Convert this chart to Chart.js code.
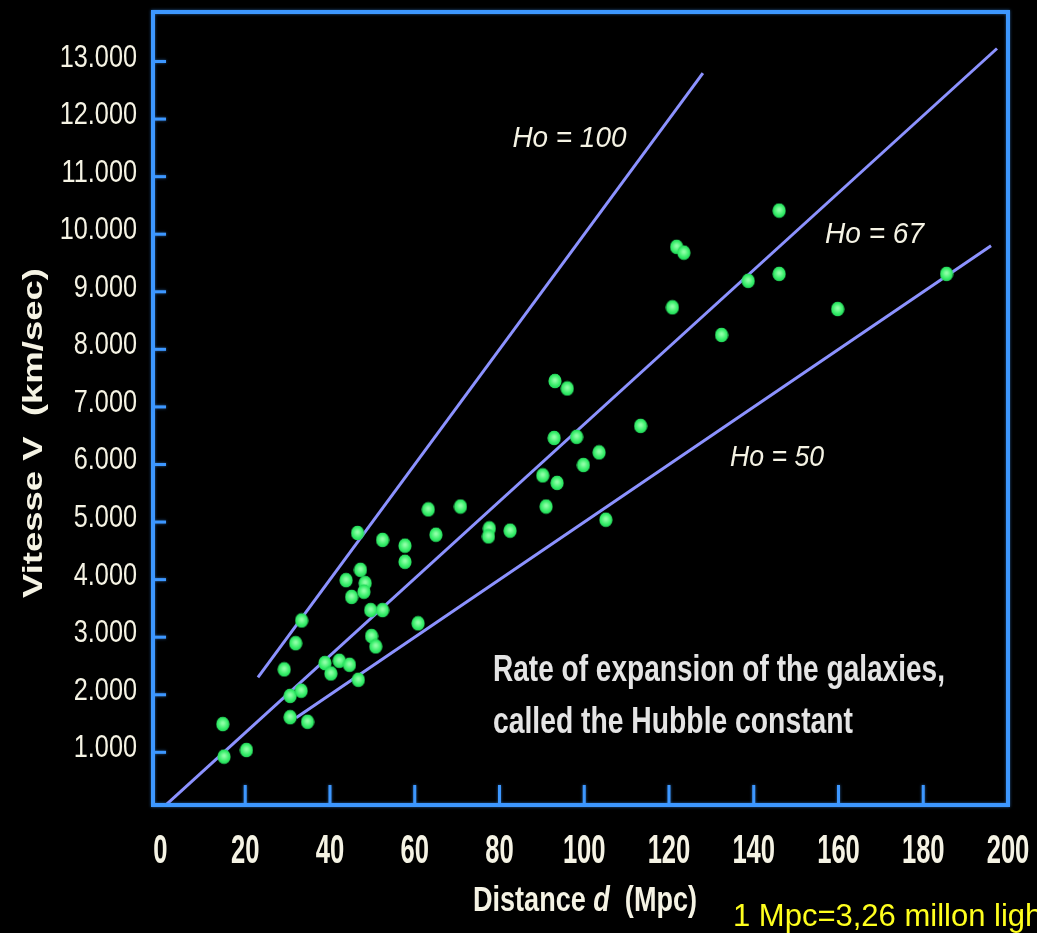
<!DOCTYPE html>
<html>
<head>
<meta charset="utf-8">
<title>Hubble diagram</title>
<style>
  html, body { margin: 0; padding: 0; background: #000; overflow: hidden; }
  #wrap { width: 1037px; height: 933px; position: relative; }
</style>
<script src="https://cdn.jsdelivr.net/npm/chart.js@4.4.1/dist/chart.umd.min.js"></script>
</head>
<body>
<div id="wrap"><canvas id="hubble" width="1037" height="933"></canvas></div>
<script>
// Galaxy distances (Mpc) and recession velocities (km/s)
const distanceMpc = [14.7, 15.0, 20.3, 29.2, 31.9, 33.3, 30.6, 33.2, 30.6, 34.7,
  38.8, 40.2, 42.2, 44.6, 46.7, 45.1, 43.8, 47.2, 48.3, 48.0,
  49.6, 52.4, 49.8, 50.8, 46.5, 52.4, 57.7, 57.7, 63.2, 70.8,
  65.0, 77.6, 77.4, 60.8, 82.5, 93.1, 96.0, 92.9, 98.2, 103.5,
  99.8, 90.2, 93.6, 91.0, 105.1, 113.3, 120.8, 121.8, 123.5, 132.4,
  138.7, 146.0, 146.0, 159.8, 185.5];
const velocityKms = [1490, 925, 1040, 2440, 2895, 3290, 1980, 2070, 1610, 1530,
  2550, 2370, 2590, 2520, 2260, 3700, 3990, 4170, 3940, 3790,
  3470, 3470, 3020, 2840, 4810, 4690, 4590, 4310, 5220, 5270,
  4780, 4890, 4750, 3240, 4850, 7450, 7320, 6460, 6480, 6210,
  5990, 5810, 5680, 5270, 5040, 6670, 8730, 9780, 9680, 8250,
  9190, 10410, 9310, 8700, 9310];

// Hubble constants (km/s/Mpc) and the distance span each reference line covers
const hubbleRates = [100, 67, 50];
const hubbleLabels = ['Ho = 100', 'Ho = 67', 'Ho = 50'];
const lineStartMpc = [23, 0, 32];
const lineEndMpc = [128, 197.4, 196];
// where each rate label sits, in data units (Mpc, km/s)
const labelAtMpc = [96.5, 168.5, 145.5];
const labelAtKms = [11700, 10040, 6170];

// Axis ticks
const xTickValues = [0, 20, 40, 60, 80, 100, 120, 140, 160, 180, 200];
const yTickValues = [1000, 2000, 3000, 4000, 5000, 6000, 7000, 8000, 9000, 10000, 11000, 12000, 13000];

const FRAME_BLUE = '#3d97ff';
const LINE_BLUE = '#8c92ff';
const LABEL_WHITE = '#f5f3e4';

// soft green dot used as the galaxy marker
function makeDot() {
  const c = document.createElement('canvas');
  c.width = 14; c.height = 16;
  const g = c.getContext('2d');
  const grad = g.createRadialGradient(7, 7, 1, 7, 8, 8);
  grad.addColorStop(0, '#8dffa6');
  grad.addColorStop(0.55, '#3bef6c');
  grad.addColorStop(0.85, '#22d85a');
  grad.addColorStop(1, 'rgba(20,160,60,0)');
  g.fillStyle = grad;
  g.beginPath();
  g.ellipse(7, 8, 6.6, 7.6, 0, 0, Math.PI * 2);
  g.fill();
  return c;
}

const galaxyPoints = distanceMpc.map((d, i) => ({ x: d, y: velocityKms[i] }));

const lineSets = hubbleRates.map((h, i) => ({
  type: 'line',
  label: hubbleLabels[i],
  data: [
    { x: lineStartMpc[i], y: h * lineStartMpc[i] },
    { x: lineEndMpc[i], y: h * lineEndMpc[i] }
  ],
  borderColor: LINE_BLUE,
  borderWidth: 3,
  pointRadius: 0,
  tension: 0,
  order: 2
}));

// draw text squeezed or stretched horizontally to a given width
function fitText(ctx, parts, x, y, width) {
  let total = 0;
  parts.forEach(p => { ctx.font = p.font; p.w = ctx.measureText(p.t).width; total += p.w; });
  const sx = width / total;
  ctx.save();
  ctx.translate(x, y);
  ctx.scale(sx, 1);
  let cx = 0;
  parts.forEach(p => { ctx.font = p.font; ctx.fillText(p.t, cx, 0); cx += p.w; });
  ctx.restore();
}

// draw text with a fixed horizontal squeeze, anchored by alignment
function narrowText(ctx, t, x, y, font, sx, align) {
  ctx.save();
  ctx.font = font;
  const w = ctx.measureText(t).width * sx;
  const left = align === 'right' ? x - w : align === 'center' ? x - w / 2 : x;
  ctx.translate(left, y);
  ctx.scale(sx, 1);
  ctx.textAlign = 'left';
  ctx.fillText(t, 0, 0);
  ctx.restore();
}

const framePlugin = {
  id: 'frame',
  afterDatasetsDraw(chart) {
    const { ctx, chartArea: a, scales } = chart;
    ctx.save();
    ctx.strokeStyle = FRAME_BLUE;
    ctx.shadowColor = 'rgba(61,151,255,0.6)';
    ctx.shadowBlur = 3;
    ctx.lineWidth = 4;
    ctx.strokeRect(a.left + 1, a.top, a.right - a.left - 1, a.bottom - a.top - 2);
    ctx.lineWidth = 3;
    // inward tick marks
    yTickValues.forEach(v => {
      const py = scales.y.getPixelForValue(v);
      ctx.beginPath(); ctx.moveTo(a.left + 2, py); ctx.lineTo(a.left + 14, py); ctx.stroke();
    });
    xTickValues.filter(v => v > 0 && v < 200).forEach(v => {
      const px = scales.x.getPixelForValue(v);
      ctx.beginPath(); ctx.moveTo(px, a.bottom - 3); ctx.lineTo(px, a.bottom - 22); ctx.stroke();
    });
    ctx.restore();
  }
};

const notesPlugin = {
  id: 'notes',
  afterDraw(chart) {
    const { ctx, scales, chartArea: a } = chart;
    ctx.save();
    ctx.textBaseline = 'alphabetic';
    ctx.textAlign = 'left';
    ctx.fillStyle = LABEL_WHITE;

    // tick labels, condensed
    scales.y.ticks.forEach(t => {
      const py = scales.y.getPixelForValue(t.value);
      narrowText(ctx, t.value.toLocaleString('de-DE'), a.left - 15, py + 5, '32px "Liberation Sans"', 0.79, 'right');
    });
    scales.x.ticks.forEach(t => {
      const px = scales.x.getPixelForValue(t.value);
      narrowText(ctx, String(t.value), px, a.bottom + 56, 'bold 40px "Liberation Sans"', 0.64, 'center');
    });

    // rate labels beside the lines
    const labelWidths = [114, 99, 94];
    hubbleLabels.forEach((t, i) => {
      const cx = scales.x.getPixelForValue(labelAtMpc[i]);
      const cy = scales.y.getPixelForValue(labelAtKms[i]);
      fitText(ctx, [{ t, font: 'italic 30px "Liberation Sans"' }], cx - labelWidths[i] / 2, cy + 11, labelWidths[i]);
    });

    // caption
    ctx.fillStyle = '#e4e4e4';
    fitText(ctx, [{ t: 'Rate of expansion of the galaxies,', font: 'bold 37px "Liberation Sans"' }], 493, 681, 452);
    fitText(ctx, [{ t: 'called the Hubble constant', font: 'bold 37px "Liberation Sans"' }], 493, 733, 360);

    // x axis title
    ctx.fillStyle = LABEL_WHITE;
    fitText(ctx, [
      { t: 'Distance ', font: 'bold 35px "Liberation Sans"' },
      { t: 'd', font: 'italic bold 35px "Liberation Sans"' },
      { t: '  (Mpc)', font: 'bold 35px "Liberation Sans"' }
    ], 473, 911, 224);

    // y axis title
    ctx.save();
    ctx.translate(42, 598);
    ctx.rotate(-Math.PI / 2);
    fitText(ctx, [{ t: 'Vitesse V  (km/sec)', font: 'bold 28px "Liberation Sans"' }], 0, 0, 330);
    ctx.restore();

    // unit note
    ctx.fillStyle = '#ffff1e';
    ctx.font = '31px "Liberation Sans"';
    ctx.fillText('1 Mpc=3,26 millon light years', 733, 926);
    ctx.restore();
  }
};

// remove the automatic label overhang so the plot box keeps its set size
function noOverhang(s) {
  s.paddingTop = 0; s.paddingBottom = 0; s.paddingLeft = 0; s.paddingRight = 0;
}

new Chart(document.getElementById('hubble'), {
  type: 'scatter',
  data: {
    datasets: [
      ...lineSets,
      {
        label: 'Galaxies',
        data: galaxyPoints,
        pointStyle: makeDot(),
        pointRadius: 7,
        order: 1
      }
    ]
  },
  options: {
    responsive: false,
    animation: false,
    events: [],
    layout: { padding: { top: 12, right: 29, left: 0, bottom: 0 } },
    plugins: { legend: { display: false }, tooltip: { enabled: false } },
    scales: {
      x: {
        type: 'linear',
        min: -2,
        max: 200,
        afterBuildTicks: s => { s.ticks = xTickValues.map(v => ({ value: v })); },
        afterFit: s => { s.height = 126; noOverhang(s); },
        grid: { display: false, drawTicks: false },
        border: { display: false },
        ticks: { display: false }
      },
      y: {
        type: 'linear',
        min: 50,
        max: 13860,
        afterBuildTicks: s => { s.ticks = yTickValues.map(v => ({ value: v })); },
        afterFit: s => { s.width = 152; noOverhang(s); },
        grid: { display: false, drawTicks: false },
        border: { display: false },
        ticks: { display: false }
      }
    }
  },
  plugins: [framePlugin, notesPlugin]
});
</script>
</body>
</html>
